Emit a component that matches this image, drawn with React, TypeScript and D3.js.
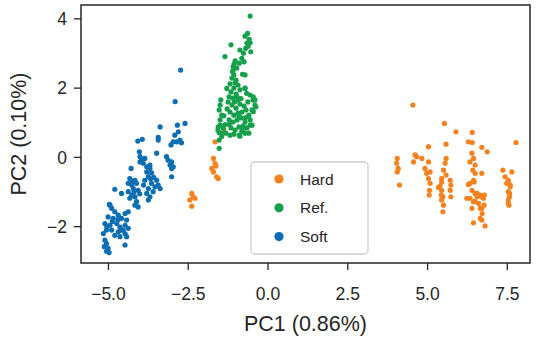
import * as d3 from "d3";

const hardPoints: [number, number][] = [
  [-1.38, 0.77], [-1.66, 0.45], [-1.71, -0.03], [-1.66, -0.17], [-1.76, -0.32], [-1.71, -0.42], [-1.63, -0.25], [-1.61, -0.56], [-1.56, -0.61],
  [-2.39, -1.04], [-2.34, -1.14], [-2.45, -1.23], [-2.29, -1.18], [-2.39, -1.41],
  [4.54, 1.51], [5.53, 0.98], [5.89, 0.74], [6.4, 0.72], [7.77, 0.43], [5.03, 0.31], [5.58, 0.38], [6.28, 0.45], [6.4, 0.43], [6.7, 0.29], [6.87, 0.16],
  [4.05, -0.03], [4.03, -0.17], [4.08, -0.32], [4.05, -0.42], [4.12, -0.8],
  [4.61, 0.07], [4.56, -0.13], [4.82, -0.03], [4.66, 0.02],
  [4.92, -0.32], [5.03, -0.13], [4.97, -0.46], [5.08, -0.42], [5.03, -0.61], [5.08, -0.75], [5.06, -0.95], [5.05, -1.09],
  [5.58, -0.03], [5.55, -0.17], [5.5, -0.37], [5.44, -0.61], [5.58, -0.51], [5.39, -0.83], [5.34, -0.87], [5.44, -0.95], [5.48, -1.14], [5.44, -1.23],
  [5.5, -1.38], [5.48, -1.57], [5.71, -0.66], [5.73, -0.8], [5.71, -0.95], [5.73, -1.14], [5.44, -0.72], [5.43, -1.09],
  [6.39, 0.12], [6.44, -0.03], [6.33, -0.13], [6.49, -0.22], [6.42, -0.37], [6.49, -0.46], [6.44, -0.66], [6.33, -0.75], [6.23, -1.18], [6.39, -0.95],
  [6.49, -1.04], [6.55, -1.14], [6.44, -1.28], [6.6, -1.33], [6.65, -1.47], [6.71, -1.62], [6.65, -1.76], [6.44, -1.89], [6.8, -1.98], [6.75, -1.18],
  [6.77, -1.38], [6.7, -0.46], [6.28, -0.78], [6.46, -0.71], [6.55, -1.04], [6.65, -1.09], [6.33, -1.18], [6.49, -1.28], [6.39, -1.47], [6.7, -1.14],
  [6.7, -1.47], [6.7, -1.81], [6.78, -1.09],
  [7.36, -0.37], [7.64, -0.42], [7.43, -0.56], [7.53, -0.66], [7.48, -0.75], [7.59, -0.85], [7.53, -0.99], [7.57, -1.14], [7.53, -1.33],
  [7.52, -0.72], [7.59, -0.8], [7.57, -1.04], [7.53, -1.23], [7.55, -1.38],
];

const refPoints: [number, number][] = [
  [-0.56, 4.08], [-0.64, 3.58], [-0.72, 3.5], [-0.59, 3.41], [-0.56, 3.31], [-0.62, 3.21], [-0.54, 3.05], [-1.16, 3.25], [-1.35, 2.91], [-1.03, 2.79],
  [-0.88, 3.1], [-0.77, 3.01], [-0.82, 2.86], [-0.75, 2.76], [-0.9, 2.72], [-1.09, 2.62], [-1.11, 2.47], [-1.07, 2.38], [-0.72, 2.38], [-0.8, 2.4],
  [-1.29, 1.99], [-0.72, 1.99], [-0.67, 1.85], [-0.46, 1.75], [-0.41, 1.66], [-0.38, 1.46], [-0.46, 1.32],
  [-1.48, 1.66], [-1.5, 1.51], [-1.53, 1.37], [-1.45, 1.22], [-1.5, 1.08], [-1.56, 0.88], [-1.53, 0.71],
  [-0.9, 0.64], [-0.77, 0.84], [-0.56, 0.93], [-1.53, 0.26],
  [-1.13, 2.29], [-1.0, 2.23], [-1.19, 2.12], [-1.07, 2.0], [-0.94, 2.09], [-1.16, 1.89], [-1.0, 1.83], [-0.88, 1.95], [-1.1, 1.71], [-0.94, 1.66],
  [-0.72, 2.0], [-0.56, 1.8], [-0.47, 1.66], [-0.41, 1.51], [-0.5, 1.37], [-0.6, 1.22], [-0.72, 1.14],
  [-1.25, 1.6], [-1.13, 1.51], [-1.0, 1.42], [-0.88, 1.54], [-0.75, 1.48], [-1.19, 1.31], [-1.07, 1.22], [-0.94, 1.28], [-0.82, 1.31], [-0.69, 1.37],
  [-1.22, 1.08], [-1.1, 1.02], [-0.97, 1.08], [-0.85, 1.14], [-0.72, 1.02], [-0.56, 1.08], [-1.16, 0.85], [-1.03, 0.79], [-0.91, 0.88], [-0.78, 0.9],
  [-0.66, 0.85], [-0.5, 0.93], [-1.32, 0.7], [-1.19, 0.64], [-1.07, 0.67], [-0.88, 0.61], [-0.72, 0.7],
  [-1.57, 0.79], [-1.45, 0.6], [-1.5, 0.93], [-1.4, 0.84], [-1.45, 0.69], [-1.53, 0.5],
  [-1.03, 2.15], [-0.97, 1.75], [-1.22, 1.75], [-0.85, 1.7], [-0.63, 1.6], [-1.28, 1.4], [-0.63, 1.18], [-1.38, 1.2], [-1.35, 0.95], [-0.82, 0.75],
  [-0.6, 0.7], [-1.05, 1.6], [-0.91, 1.2], [-1.22, 0.95], [-1.1, 2.5], [-0.98, 2.58], [-1.06, 2.7], [-0.66, 3.3], [-0.7, 3.15],
];

const softPoints: [number, number][] = [
  [-2.74, 2.52], [-2.91, 1.61], [-2.6, 0.98], [-2.84, 0.93], [-3.38, 0.88], [-2.81, 0.74], [-2.92, 0.64], [-2.76, 0.5], [-2.86, 0.45], [-2.71, 0.42],
  [-2.97, 0.45], [-3.04, 0.36], [-3.44, 0.58], [-3.44, 0.5], [-4.08, 0.47], [-3.94, 0.52], [-3.49, 0.12],
  [-4.03, 0.16], [-4.01, 0.02], [-3.96, -0.08], [-3.86, -0.03], [-4.01, -0.13], [-3.91, -0.17],
  [-3.18, 0.02], [-3.13, -0.08], [-3.02, -0.13], [-3.07, -0.22], [-2.97, -0.27], [-3.02, -0.32],
  [-4.29, -0.32], [-3.8, -0.27], [-3.7, -0.22], [-3.02, -0.56],
  [-3.7, -0.32], [-3.8, -0.42], [-3.75, -0.56], [-3.86, -0.66], [-3.65, -0.75], [-3.49, -0.66], [-3.44, -0.8], [-3.38, -0.9], [-3.75, -0.9], [-3.8, -1.04],
  [-3.7, -1.14], [-3.75, -1.23], [-3.54, -0.85], [-3.6, -0.99],
  [-4.33, -0.61], [-4.17, -0.66], [-4.38, -0.75], [-4.27, -0.8], [-4.12, -0.75], [-4.22, -0.9], [-4.07, -0.95], [-4.38, -0.99], [-4.27, -1.09], [-4.17, -1.14],
  [-4.33, -1.18], [-4.12, -1.28], [-4.17, -1.38], [-4.07, -1.43], [-4.59, -1.04], [-4.8, -0.92],
  [-4.95, -1.38], [-4.9, -1.47], [-4.8, -1.57], [-5.01, -1.72], [-4.85, -1.76], [-4.69, -1.67], [-4.59, -1.76], [-4.48, -1.62], [-4.38, -1.57], [-4.43, -1.81],
  [-5.11, -1.91], [-4.95, -1.96], [-4.74, -1.91], [-4.64, -2.01], [-4.48, -1.96], [-5.06, -2.1], [-4.9, -2.1], [-4.69, -2.15], [-4.54, -2.1], [-4.38, -2.05],
  [-5.16, -2.2], [-4.8, -2.25], [-4.64, -2.29], [-4.48, -2.2], [-4.43, -2.29],
  [-5.11, -2.39], [-5.06, -2.49], [-5.13, -2.58], [-5.01, -2.63], [-5.06, -2.71], [-4.98, -2.75], [-4.48, -2.53], [-4.97, -1.36],
  [-3.65, -0.45], [-3.58, -0.58], [-3.9, -0.8], [-3.68, -0.62], [-4.2, -1.0], [-4.25, -0.7], [-4.02, -1.05], [-4.88, -1.85], [-4.7, -1.8], [-5.05, -2.0], [-4.6, -2.1],
];

const seriesNames = ["Hard", "Ref.", "Soft"];
const seriesColors = ["#f5821f", "#17a04b", "#0b6db3"];
const xTicks = [-5, -2.5, 0, 2.5, 5, 7.5];
const yTicks = [-2, 0, 2, 4];

const width = 541;
const height = 337;
const font = "'Liberation Sans', Arial, sans-serif";
const ink = "#262626";

export default function App() {
  const x = d3.scaleLinear().domain([-5.86, 8.21]).range([81, 530]);
  const y = d3.scaleLinear().domain([-3.05, 4.4]).range([263, 5]);
  const fmtX = (v: number) => d3.format(".1f")(v).replace("-", "\u2212");
  const fmtY = (v: number) => String(v).replace("-", "\u2212");
  const groups = [hardPoints, refPoints, softPoints];

  return (
    <svg
      width={width}
      height={height}
      style={{ position: "absolute", left: 0, top: 0, background: "#fff" }}
      fontFamily={font}
    >
      {groups.map((pts, gi) => (
        <g key={gi} fill={seriesColors[gi]}>
          {pts.map((p, i) => (
            <circle key={i} cx={x(p[0])} cy={y(p[1])} r={2.6} />
          ))}
        </g>
      ))}

      <rect x={81} y={5} width={449} height={258} fill="none" stroke={ink} strokeWidth={1.5} />

      {xTicks.map((t) => (
        <g key={t}>
          <line x1={x(t)} x2={x(t)} y1={263} y2={270} stroke={ink} strokeWidth={1.3} />
          <text x={x(t)} y={300} textAnchor="middle" fontSize={17.5} fill={ink}>
            {fmtX(t)}
          </text>
        </g>
      ))}
      {yTicks.map((t) => (
        <g key={t}>
          <line x1={74} x2={81} y1={y(t)} y2={y(t)} stroke={ink} strokeWidth={1.3} />
          <text x={67} y={y(t) + 6.3} textAnchor="end" fontSize={17.5} fill={ink}>
            {fmtY(t)}
          </text>
        </g>
      ))}

      <text x={305.5} y={331} textAnchor="middle" fontSize={21.5} fill={ink}>
        PC1 (0.86%)
      </text>
      <text
        transform={`translate(26,${(5 + 263) / 2}) rotate(-90)`}
        textAnchor="middle"
        fontSize={21.5}
        fill={ink}
      >
        PC2 (0.10%)
      </text>

      <rect x={251} y={162} width={117} height={92} rx={4} fill="#fff" fillOpacity={0.8} stroke="#cccccc" strokeWidth={1.3} />
      {seriesNames.map((name, i) => (
        <g key={name}>
          <circle cx={279} cy={179 + i * 28.8} r={4.6} fill={seriesColors[i]} />
          <text x={300} y={179 + i * 28.8 + 5.5} fontSize={15.5} fill={ink}>
            {name}
          </text>
        </g>
      ))}
    </svg>
  );
}
